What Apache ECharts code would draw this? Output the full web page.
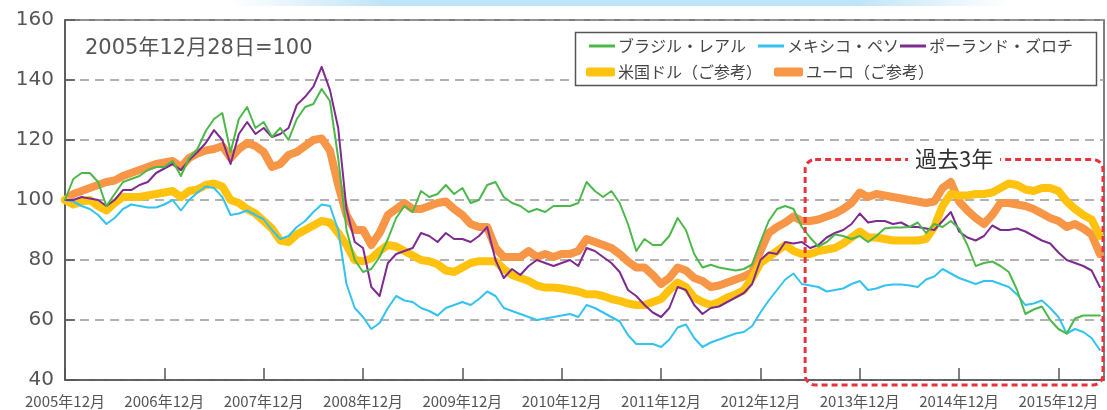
<!DOCTYPE html>
<html><head><meta charset="utf-8">
<script src="https://cdn.jsdelivr.net/npm/echarts@6/dist/echarts.min.js"></script>
<style>html,body{margin:0;padding:0;background:#fff}#c{width:1107px;height:410px}</style>
</head><body><div id="c"></div>
<script>
// x = months since 2005-12-28 (index), one value per month
const xTickLabels = ['2005年12月','2006年12月','2007年12月','2008年12月','2009年12月','2010年12月','2011年12月','2012年12月','2013年12月','2014年12月','2015年12月'];
const yTicks = [40, 60, 80, 100, 120, 140, 160];
const seriesNames = ['ブラジル・レアル','メキシコ・ペソ','ポーランド・ズロチ','米国ドル（ご参考）','ユーロ（ご参考）'];

const brl = [100,107,109,109,106,98,102,106,107,108,110,111,
 111,113,108,114,117,123,127,129,116,127,131,124,
 126,121,124,120,127,131,132,137,133,114,90,80,
 76,77,81,87,94,98,96,103,101,102,105,102,
 104,99,100,105,106,101,99,98,96,97,96,98,
 98,98,99,106,103,101,103,99,92,83,87,85,
 85,88,94,90,82,77.5,78.4,77.5,77,76.5,77,78.5,
 86,93,97,98,97,91,87.5,84.5,86,88.5,88,87,
 88,86,88,90.5,90.8,90.8,91,92.5,89,92,91,93,
 90.5,85,78,79,79.5,78,76,70,62,63.5,64.5,60,
 57,55.5,60.5,61.5,61.5,61.5];
const mxn = [100,99.5,98,97,95,92,94,97,98.5,98,97.5,97.5,
 98.5,100,96.5,100,102.5,104.5,104,101,95,95.5,96.5,95,
 93.5,90,87,88,91,93,96,98.5,98,90,72,64,
 61,57,59,64,68,66.5,66,64,63,61.5,64,65,
 66,65,67,69.5,68,64,63,62,61,60,60.5,61,
 61.5,62,61,65,64,62.5,61,59.5,55,52,52,52,
 51,53.5,57.5,58.5,54,51,52.5,53.5,54.5,55.5,56,58,
 62.5,66.5,70,73.5,75.5,72,71.5,71,69.5,70,70.5,72,
 73,70,70.5,71.5,71.8,71.8,71.5,71,73.5,74.5,77,75.5,
 74,73,72,73,73,72,71,68.5,65,65.5,66.5,64,
 61,55.5,57,56,54,50];
const pln = [100,100,101,100.5,100,98,100,103.3,103.3,105,106,109,
 110.5,112,110,113.3,116,119,123.3,120,112,122,126,122,
 124,121,122,124,131.7,134.4,137.8,144.4,136.7,124,97,86,
 84,71,68,79,82,83,84,89,88,86,89,87,
 87,86,88,91,80,74,77,75,78,80,79,78,
 79,80,78,84,83,81,79,76,70,68,65,62.5,
 61,64,71,70,65,62,64,64.5,66,67.5,69,72,
 80,82.5,82,86,85.5,86,84,85,87.5,89,90,92,
 95.5,92.5,93,93,92,92.5,91,91,90.5,90,93,96,
 89.5,87.5,86.5,88,91.5,90,90,90.5,89.5,88,86.5,85.5,
 82.5,80,79,78,76.5,71];
const usd = [100,98.5,99.5,100,98,96.5,99,101,101,101,101.5,102,
 102.5,103,101,103,103.5,105,105.5,104.5,100,99,97,95.5,
 93,90.5,86.5,86,88.5,90,91.5,93,92.5,89,85,80,
 79.6,80.5,83,85,84.5,83,81.5,80,79.6,78.6,76.5,76,
 77.5,79,79.6,79.6,79.6,77,75,74,73,71.5,70.8,70.8,
 70.5,70,69.5,68.6,68.6,68,67,66.4,65.5,65,65,66,
 67,70,72.5,71,67.5,66,65,66,67.5,68.5,70,74,
 79,81,83,85,83,82,82,83,83.5,84,85.5,87.5,
 89.5,87.5,87.5,87,86.5,86.5,86.5,86.5,87,91,98,102,
 101.5,101.5,102,102,102.5,104,105.5,105,103.5,103,104,104,
 103,99.5,97,95,93.5,88];
const eur = [100,102,103,104,105,106,106.5,108,109,110,111,112,
 112.5,113,111,114,115.5,116.5,117,118,114,117,119,118,
 116,111,112,115,116,118,120,120.5,116.5,105,95,90,
 90,85,89,95,97,99,97,97,98,99,99.5,97,
 95,92,91,91,84,81,81,81,83,81,82,81,
 82,82,83,87,86,85,84,82,79.5,77.5,77.5,75,
 72,74,77.5,76.5,74,73,71,71.5,72.5,73.5,74.5,76,
 83,89,91,92.5,94.5,93,93,93.5,94.5,95.5,97,99,
 102.5,101,102,101.5,101,100.5,100,99.5,99,99.5,104,106,
 99.5,96.5,94,92,95,99,99,98.5,98,97,95.5,94,
 93,91,92,90.5,88.5,82];

const pastStart = 89.4;   // month index where the "過去3年" box begins
const pastTop = 113.5;    // index value at box top
const annotation = '2005年12月28日=100';
const pastLabel = '過去3年';

const colors = ['#4db84a','#34c2ee','#7d2b8f','#ffc20e','#f79646'];
const allData = [brl, mxn, pln, usd, eur];
const widths = [2, 2, 2, 8, 8];
const drawOrder = [4, 3, 1, 2, 0];

const chart = echarts.init(document.getElementById('c'), null, {renderer: 'canvas'});
const jp = '"Noto Sans CJK JP", sans-serif';

const series = drawOrder.map(k => ({
  name: seriesNames[k], type: 'line', data: allData[k].map((v, i) => [i, v]),
  showSymbol: false, symbol: 'none', color: colors[k], z: 2,
  lineStyle: {width: widths[k], color: colors[k], cap: 'round', join: 'round'},
  emphasis: {disabled: true}, animation: false
}));

const legendPos = [[589, 37], [758, 37], [900, 37], [586, 63], [774, 63]];
const legends = seriesNames.map((n, k) => ({
  data: [n], left: legendPos[k][0], top: legendPos[k][1], padding: 0, z: 10,
  itemWidth: k < 3 ? 26 : 29, itemHeight: k < 3 ? 3 : 9,
  icon: k < 3 ? 'rect' : 'roundRect', itemGap: 0, selectedMode: false,
  textStyle: {fontSize: 16, color: '#444', fontFamily: jp, lineHeight: 18, padding: [0, 0, 0, -2]}
}));

chart.setOption({
  animation: false,
  grid: {left: 65, top: 20, right: 3, bottom: 30, show: true, borderColor: '#555', borderWidth: 1.5, backgroundColor: 'transparent'},
  legend: legends,
  xAxis: {
    type: 'value', min: 0, max: 125.5, interval: 12,
    axisLine: {show: true, lineStyle: {color: '#555', width: 1.5}},
    axisTick: {show: true, inside: true, length: 12, lineStyle: {color: '#555', width: 1.5}},
    axisLabel: {formatter: v => (v % 12 === 0 ? (xTickLabels[v / 12] || '') : ''), fontSize: 15, color: '#555', margin: 14, fontFamily: jp, showMaxLabel: false},
    splitLine: {show: false}
  },
  yAxis: {
    type: 'value', min: yTicks[0], max: yTicks[yTicks.length - 1], interval: 20,
    axisLine: {show: true, lineStyle: {color: '#555', width: 1.5}},
    axisTick: {show: true, inside: true, length: 10, lineStyle: {color: '#555', width: 1.5}},
    axisLabel: {fontSize: 20, color: '#555', margin: 11, fontFamily: '"DejaVu Sans", sans-serif'},
    splitLine: {show: true, lineStyle: {color: '#999', width: 1.5, type: [9, 6]}}
  },
  series: series
});

const pL = chart.convertToPixel({gridIndex: 0}, [pastStart, pastTop]);
const pR = chart.convertToPixel({gridIndex: 0}, [125.5, 40]);
const boxW = pR[0] - pL[0] - 1;
const boxH = pR[1] + 5 - pL[1];
const cx = pL[0] + boxW / 2;

chart.setOption({
  graphic: [
    {type: 'rect', z: 1, silent: true, shape: {x: 230, y: 0, width: 780, height: 6},
     style: {fill: new echarts.graphic.LinearGradient(0, 0, 1, 0, [
       {offset: 0, color: 'rgba(190,228,247,0)'}, {offset: 0.2, color: 'rgba(190,228,247,1)'},
       {offset: 0.8, color: 'rgba(190,228,247,1)'}, {offset: 1, color: 'rgba(190,228,247,0)'}])}},
    {type: 'rect', z: 5, silent: true, shape: {x: 575.5, y: 32.5, width: 521, height: 53},
     style: {fill: '#fff', stroke: '#555', lineWidth: 1.5}},
    {type: 'text', z: 5, silent: true, x: 85, y: 38,
     style: {text: annotation, fontSize: 21, fill: '#555', fontFamily: '"DejaVu Sans", "Noto Sans CJK JP", sans-serif'}},
    {type: 'rect', z: 6, silent: true, shape: {x: pL[0], y: pL[1], width: boxW, height: boxH, r: 10},
     style: {fill: 'none', stroke: '#e8323c', lineWidth: 3, lineDash: [6, 4]}},
    {type: 'rect', z: 7, silent: true, shape: {x: cx - 46, y: pL[1] - 6, width: 92, height: 12},
     style: {fill: '#fff'}},
    {type: 'text', z: 8, silent: true, x: cx, y: pL[1] - 1,
     style: {text: pastLabel, fontSize: 22, fill: '#333', fontFamily: jp, align: 'center', verticalAlign: 'middle'}}
  ]
});
</script>
</body></html>
